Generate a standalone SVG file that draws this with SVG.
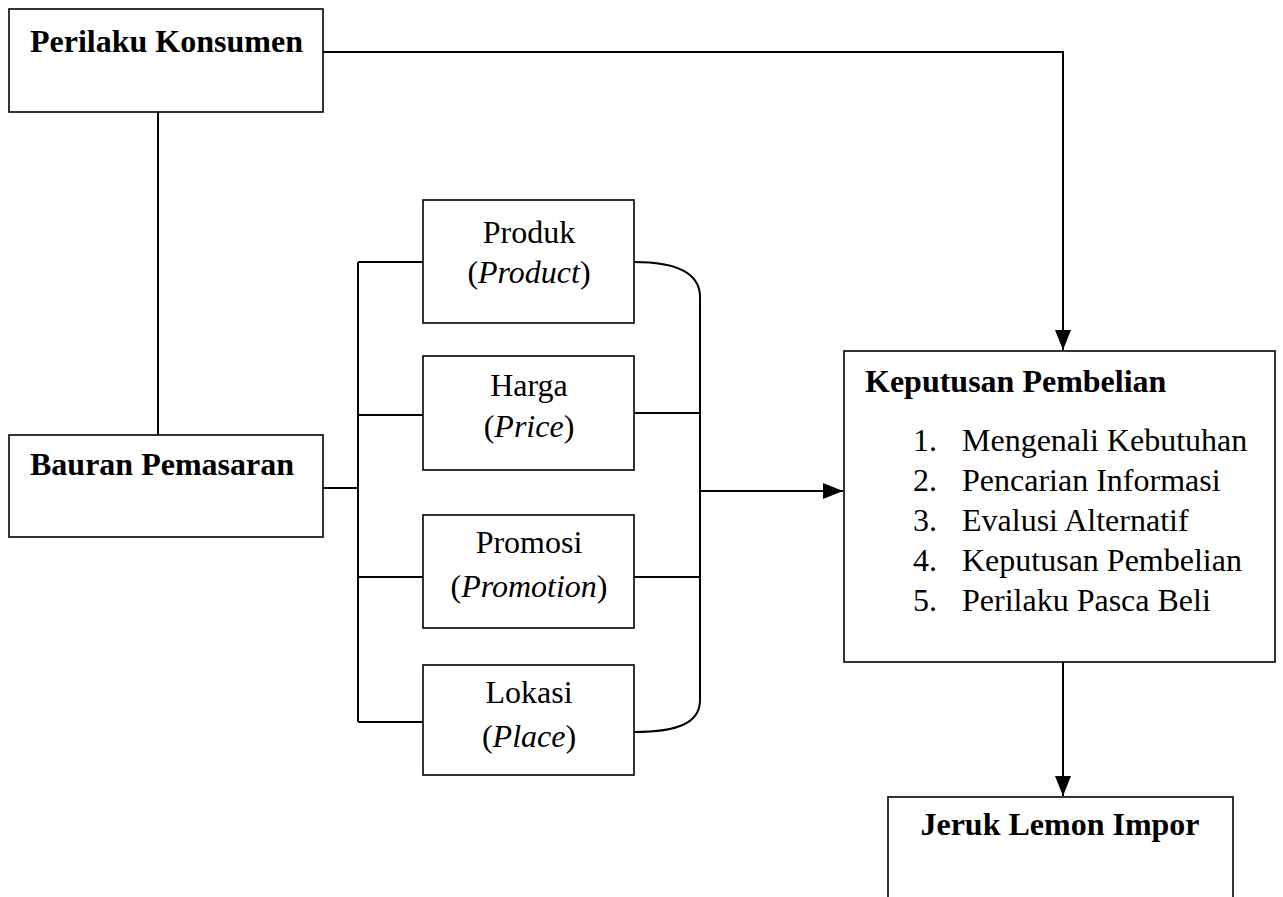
<svg xmlns="http://www.w3.org/2000/svg" width="1283" height="897" viewBox="0 0 1283 897">
<style>
.box{fill:#fff;stroke:#000;stroke-width:1.6}
.ln{fill:none;stroke:#000;stroke-width:2}
text{font-family:"Liberation Serif","Times New Roman",serif;font-size:32px;fill:#000}
.b{font-weight:bold}
.c{text-anchor:middle}
</style>
<defs>
<marker id="arr" markerUnits="userSpaceOnUse" markerWidth="22" markerHeight="16" refX="20" refY="8" orient="auto">
<path d="M0,0 L20,8 L0,16 Z" fill="#000"/>
</marker>
</defs>
<rect width="1283" height="897" fill="#fff"/>
<g id="connectors">
<path class="ln" d="M323,52 H1063 V350" marker-end="url(#arr)"/>
<path class="ln" d="M158,112 V435"/>
<path class="ln" d="M323,488 H358"/>
<path class="ln" d="M358,262 V722"/>
<path class="ln" d="M358,262 H423"/>
<path class="ln" d="M358,415 H423"/>
<path class="ln" d="M358,577 H423"/>
<path class="ln" d="M358,722 H423"/>
<path class="ln" d="M634,262 C680,262 700,275 700,297 V700 C700,722 680,732 634,732"/>
<path class="ln" d="M634,413 H700"/>
<path class="ln" d="M634,577 H700"/>
<path class="ln" d="M700,491 H843" marker-end="url(#arr)"/>
<path class="ln" d="M1063,662 V796" marker-end="url(#arr)"/>
</g>
<g id="perilaku">
<rect class="box" x="9" y="9" width="314" height="103"/>
<text class="b" x="30" y="52">Perilaku Konsumen</text>
</g>
<g id="bauran">
<rect class="box" x="9" y="435" width="314" height="102"/>
<text class="b" x="30" y="475">Bauran Pemasaran</text>
</g>
<g id="produk">
<rect class="box" x="423" y="200" width="211" height="123"/>
<text class="c" x="529" y="243">Produk</text>
<text class="c" x="529" y="283">(<tspan font-style="italic">Product</tspan>)</text>
</g>
<g id="harga">
<rect class="box" x="423" y="356" width="211" height="114"/>
<text class="c" x="529" y="396">Harga</text>
<text class="c" x="529" y="437">(<tspan font-style="italic">Price</tspan>)</text>
</g>
<g id="promosi">
<rect class="box" x="423" y="515" width="211" height="113"/>
<text class="c" x="529" y="553">Promosi</text>
<text class="c" x="529" y="597">(<tspan font-style="italic">Promotion</tspan>)</text>
</g>
<g id="lokasi">
<rect class="box" x="423" y="665" width="211" height="110"/>
<text class="c" x="529" y="703">Lokasi</text>
<text class="c" x="529" y="747">(<tspan font-style="italic">Place</tspan>)</text>
</g>
<g id="keputusan">
<rect class="box" x="844" y="351" width="431" height="311"/>
<text class="b" x="865" y="392">Keputusan Pembelian</text>
<text x="913" y="451">1.</text><text x="962" y="451">Mengenali Kebutuhan</text>
<text x="913" y="491">2.</text><text x="962" y="491">Pencarian Informasi</text>
<text x="913" y="531">3.</text><text x="962" y="531">Evalusi Alternatif</text>
<text x="913" y="571">4.</text><text x="962" y="571">Keputusan Pembelian</text>
<text x="913" y="611">5.</text><text x="962" y="611">Perilaku Pasca Beli</text>
</g>
<g id="jeruk">
<rect class="box" x="888" y="797" width="345" height="110"/>
<text class="b c" x="1060" y="835">Jeruk Lemon Impor</text>
</g>
</svg>
